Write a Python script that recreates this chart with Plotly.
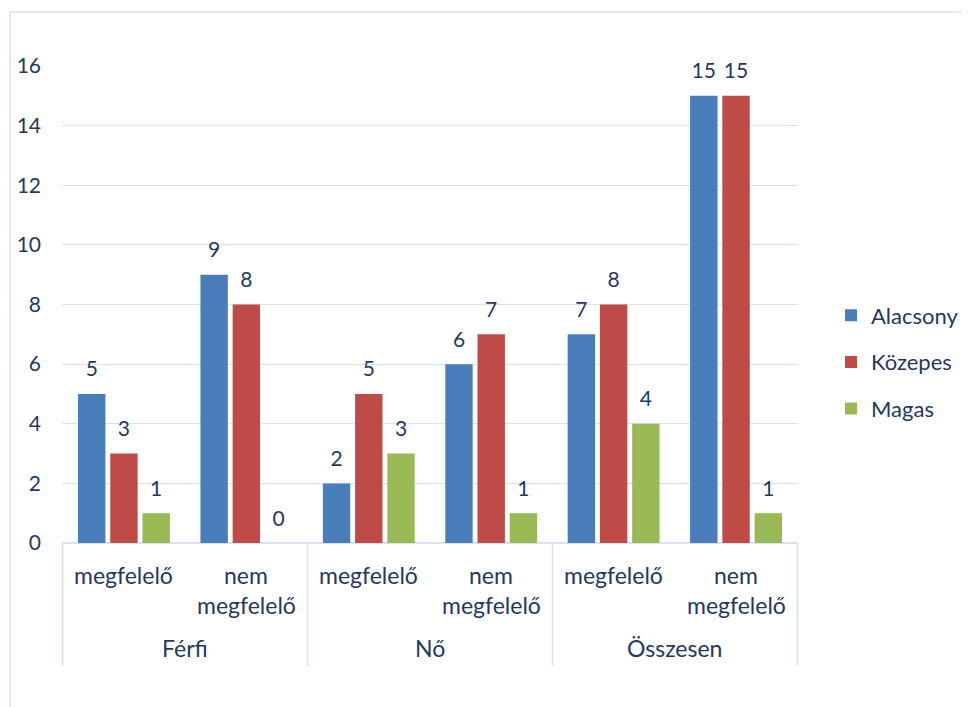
import plotly.graph_objects as go

groups = ["Férfi", "Férfi", "Nő", "Nő", "Összesen", "Összesen"]
subcats = ["megfelelő", "nem megfelelő", "megfelelő", "nem megfelelő", "megfelelő", "nem megfelelő"]
group_names = ["Férfi", "Nő", "Összesen"]
series_names = ["Alacsony", "Közepes", "Magas"]
alacsony = [5, 9, 2, 6, 7, 15]
kozepes = [3, 8, 5, 7, 8, 15]
magas = [1, 0, 3, 1, 4, 1]
colors = ["#4A7EBB", "#BE4B48", "#98B954"]
y_ticks = [0, 2, 4, 6, 8, 10, 12, 14, 16]

txt = "#1F3864"
grid = "#D6E3F3"
fnt = "Lato"

# page body has an 8px margin; work in page coords minus 8
OFF = 8
W, H = 969 - OFF, 707 - OFF
px_left, px_right, px_top, px_bottom = 62 - OFF, 798 - OFF, 66 - OFF, 543 - OFF
L, R, T, B = px_left, W - px_right, px_top, H - px_bottom
pw = px_right - px_left
ph = px_bottom - px_top


def py(page_y):
    return (px_bottom - (page_y - OFF)) / ph


def pxx(page_x):
    return (page_x - OFF - px_left) / pw


fig = go.Figure()
for name, vals, col in zip(series_names, [alacsony, kozepes, magas], colors):
    fig.add_trace(go.Bar(
        x=[groups, subcats], y=vals, name=name,
        marker=dict(color=col, line=dict(width=0)),
        offsetgroup=name, legendgroup=name, hoverinfo="skip",
    ))
for name, vals in zip(series_names, [alacsony, kozepes, magas]):
    fig.add_trace(go.Scatter(
        x=[groups, subcats], y=vals, mode="markers+text",
        text=[str(v) for v in vals], textposition="top center",
        textfont=dict(size=21, color=txt, family=fnt),
        marker=dict(size=18, color="rgba(0,0,0,0)"),
        offsetgroup=name, showlegend=False, cliponaxis=False, hoverinfo="skip",
    ))

# x-axis labels drawn as annotations
ann = []
for i, s in enumerate(subcats):
    words = s.split(" ")
    if len(words) == 1:
        ann.append(dict(x=i, y=py(575), text=words[0]))
    else:
        ann.append(dict(x=i, y=py(575), text=words[0]))
        ann.append(dict(x=i, y=py(605), text=words[1]))
for gi, g in enumerate(group_names):
    ann.append(dict(x=2 * gi + 0.5, y=py(648), text=g))
for a in ann:
    a.update(xref="x", yref="paper", showarrow=False, xanchor="center", yanchor="middle",
             font=dict(size=23, color=txt, family=fnt))

fig.update_layout(
    width=W, height=H,
    margin=dict(l=L, r=R, t=T, b=B, autoexpand=False),
    paper_bgcolor="white", plot_bgcolor="white",
    barmode="group", bargap=0.21, bargroupgap=0.15,
    scattermode="group", scattergap=0.21,
    font=dict(family=fnt, size=21, color=txt),
    legend=dict(x=pxx(831), y=py(362), xanchor="left", yanchor="middle",
                font=dict(size=22, color=txt, family=fnt), tracegroupgap=15,
                itemwidth=30, bgcolor="rgba(0,0,0,0)"),
    showlegend=True,
    annotations=ann,
)
fig.update_xaxes(
    type="multicategory", showgrid=False, showline=True, linecolor=grid, linewidth=1,
    showticklabels=False, showdividers=False, ticks="",
)
fig.update_yaxes(
    range=[0, 16], tickvals=y_ticks, showgrid=True, gridcolor=grid, gridwidth=1,
    zeroline=True, zerolinecolor=grid, showline=False,
    tickfont=dict(size=21, color=txt, family=fnt), ticks="", ticklabelstandoff=20,
)
# category dividers
for xb in [-0.5, 1.5, 3.5, 5.5]:
    fig.add_shape(type="line", xref="x", yref="paper", x0=xb, x1=xb, y0=0, y1=py(666),
                  line=dict(color=grid, width=1.5))
# outer frame (left and top edges visible)
fx = pxx(10)
fy = py(12)
fig.add_shape(type="line", xref="paper", yref="paper",
              x0=fx, x1=fx, y0=py(730), y1=fy, line=dict(color=grid, width=1.5))
fig.add_shape(type="line", xref="paper", yref="paper",
              x0=fx, x1=pxx(990), y0=fy, y1=fy, line=dict(color=grid, width=1.5))

fig.write_html("out.html")
